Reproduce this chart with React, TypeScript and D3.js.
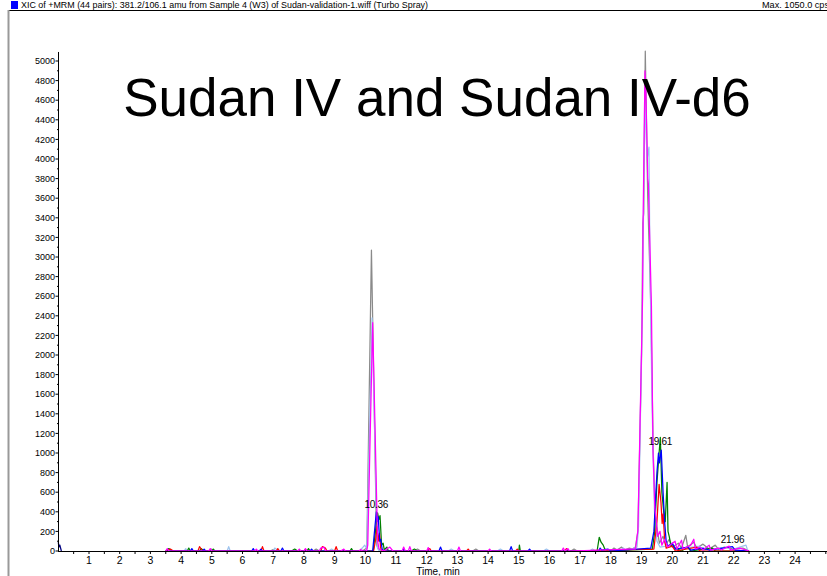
import React from 'react';
import * as d3 from 'd3';

// XIC traces, [time (min), intensity (cps)]
const grayTrace = [
  [3.5, 0], [4.9, 0], [5.0, 20], [5.05, 0], [6.9, 0], [7.0, 15], [7.1, 0], [8.3, 0], [8.4, 20], [8.5, 0],
  [9.7, 0], [9.95, 10], [10.05, 30], [10.2, 3070], [10.37, 60], [10.42, 20], [10.5, 0], [11.6, 0], [11.7, 20],
  [11.8, 0], [13.5, 0], [13.6, 20], [13.7, 0], [16.7, 0], [16.8, 20], [16.9, 0], [18.0, 0], [18.1, 30],
  [18.2, 10], [18.35, 40], [18.45, 10], [18.6, 30], [18.7, 20], [18.8, 40], [18.88, 200], [19.0, 2000],
  [19.04, 3350], [19.07, 3450], [19.12, 5100], [19.2, 3600], [19.3, 2500], [19.38, 1000], [19.45, 350],
  [19.52, 200], [19.58, 80], [19.7, 150], [19.78, 60], [19.9, 120], [20.0, 40], [20.2, 80], [20.3, 30],
  [20.44, 160], [20.5, 40], [20.7, 90], [20.8, 30], [21.0, 70], [21.2, 20], [21.4, 60], [21.5, 20],
  [21.7, 40], [22.0, 20], [22.3, 30], [22.5, 0],
];

const lightBlueTrace = [
  [3.5, 0], [4.1, 0], [4.15, 25], [4.2, 0], [5.5, 0], [5.55, 45], [5.6, 0], [7.0, 0], [7.05, 30], [7.15, 10],
  [7.3, 0], [8.8, 0], [8.9, 20], [9.0, 0], [9.8, 0], [9.9, 30], [9.98, 60], [10.05, 20], [10.22, 2380],
  [10.39, 40], [10.45, 0], [12.7, 0], [12.8, 20], [12.9, 0], [14.3, 0], [14.4, 20], [14.5, 0], [15.8, 0],
  [15.9, 20], [16.0, 0], [17.3, 0], [17.4, 20], [17.5, 0], [18.3, 0], [18.4, 30], [18.5, 0], [18.85, 40],
  [18.9, 250], [19.04, 2800], [19.1, 4600], [19.18, 4000], [19.24, 4120], [19.27, 3000], [19.34, 1500],
  [19.42, 400], [19.5, 100], [19.6, 40], [20.0, 60], [20.1, 20], [20.9, 50], [21.0, 10], [21.8, 40],
  [21.9, 10], [22.4, 60], [22.45, 10], [22.5, 0],
];

const greenTrace = [
  [3.5, 0], [3.6, 25], [3.7, 0], [4.2, 0], [4.25, 30], [4.3, 0], [4.6, 0], [4.65, 25], [4.75, 0], [5.0, 0],
  [5.05, 20], [5.1, 0], [7.6, 0], [7.7, 20], [7.8, 0], [8.1, 0], [8.15, 25], [8.2, 0], [9.5, 0], [9.55, 25],
  [9.6, 0], [10.26, 0], [10.33, 200], [10.4, 390], [10.44, 320], [10.48, 360], [10.53, 60], [10.58, 80],
  [10.62, 10], [10.7, 40], [10.75, 0], [11.5, 0], [11.6, 20], [11.7, 0], [15.0, 0], [15.02, 60], [15.05, 0],
  [17.55, 0], [17.62, 140], [17.68, 90], [17.75, 60], [17.8, 20], [17.9, 0], [19.35, 20], [19.42, 180],
  [19.5, 700], [19.57, 1000], [19.61, 1160], [19.66, 600], [19.72, 400], [19.77, 300], [19.83, 700],
  [19.86, 200], [19.9, 150], [19.95, 60], [20.1, 30], [20.3, 0], [20.5, 40], [20.6, 0], [21.3, 30],
  [21.4, 0], [22.5, 0],
];

const redTrace = [
  [3.5, 0], [3.65, 20], [3.75, 0], [4.55, 0], [4.6, 45], [4.7, 0], [6.6, 0], [6.65, 45], [6.7, 0], [7.1, 0],
  [7.15, 25], [7.2, 0], [8.0, 0], [8.05, 15], [8.1, 0], [8.55, 0], [8.6, 45], [8.7, 30], [8.75, 0], [9.0, 0],
  [9.05, 45], [9.1, 0], [10.27, 0], [10.34, 120], [10.38, 250], [10.42, 100], [10.46, 180], [10.5, 30],
  [10.55, 0], [12.0, 0], [12.1, 25], [12.15, 0], [13.3, 0], [13.35, 20], [13.4, 0], [14.9, 0], [14.95, 20],
  [15.0, 0], [16.5, 0], [16.55, 25], [16.6, 0], [19.4, 20], [19.5, 300], [19.57, 680], [19.63, 500],
  [19.67, 280], [19.7, 380], [19.75, 120], [19.8, 30], [20.0, 50], [20.1, 0], [20.8, 40], [20.9, 0], [22.5, 0],
];

const blueTrace = [
  [3.5, 0], [4.3, 0], [4.35, 25], [4.4, 0], [4.7, 0], [4.75, 20], [4.8, 0], [6.3, 0], [6.35, 25], [6.4, 0],
  [6.55, 0], [6.6, 20], [6.65, 0], [7.25, 0], [7.3, 30], [7.35, 0], [8.2, 0], [8.25, 20], [8.3, 0],
  [10.24, 0], [10.3, 200], [10.36, 400], [10.39, 300], [10.42, 350], [10.47, 100], [10.5, 120], [10.55, 20],
  [10.6, 0], [11.2, 0], [11.25, 20], [11.3, 0], [12.4, 0], [12.45, 40], [12.5, 0], [14.7, 0], [14.75, 45],
  [14.8, 0], [15.3, 0], [15.35, 20], [15.4, 0], [17.6, 0], [17.65, 30], [17.7, 10], [17.9, 20], [18.0, 0],
  [19.3, 30], [19.4, 200], [19.5, 800], [19.55, 1000], [19.58, 900], [19.64, 1030], [19.7, 600], [19.75, 300],
  [19.8, 100], [19.85, 50], [20.0, 80], [20.1, 20], [20.5, 40], [20.6, 10], [21.0, 30], [21.2, 10],
  [21.96, 45], [22.05, 10], [22.5, 0],
];

const magentaTrace = [
  [3.5, 0], [3.55, 25], [3.6, 0], [4.9, 0], [4.95, 25], [5.0, 0], [6.4, 0], [6.45, 20], [6.5, 0], [7.8, 0],
  [7.85, 20], [7.9, 0], [8.0, 0], [8.05, 25], [8.1, 0], [8.5, 0], [8.55, 30], [8.65, 40], [8.7, 0], [9.2, 0],
  [9.3, 20], [9.35, 0], [9.8, 0], [9.85, 15], [9.9, 0], [10.04, 0], [10.08, 60], [10.24, 2330], [10.4, 100],
  [10.45, 20], [10.6, 0], [10.8, 40], [10.9, 0], [11.2, 0], [11.25, 40], [11.3, 0], [11.4, 0], [11.45, 45],
  [11.5, 0], [12.0, 0], [12.05, 35], [12.1, 0], [13.0, 0], [13.05, 40], [13.1, 0], [14.0, 0], [14.05, 20],
  [14.1, 0], [16.4, 0], [16.45, 30], [16.5, 0], [16.6, 25], [16.65, 0], [18.6, 20], [18.8, 20], [18.88, 210],
  [19.03, 2560], [19.05, 3400], [19.11, 4900], [19.14, 4700], [19.2, 3800], [19.22, 3750], [19.32, 2500],
  [19.37, 1030], [19.43, 450], [19.48, 300], [19.52, 150], [19.6, 200], [19.66, 60], [19.75, 120],
  [19.85, 40], [20.0, 80], [20.09, 100], [20.15, 20], [20.3, 110], [20.35, 20], [20.6, 60], [20.7, 120],
  [20.75, 20], [20.9, 40], [21.0, 10], [21.2, 60], [21.25, 10], [21.5, 30], [21.6, 10], [21.85, 50],
  [21.9, 10], [22.2, 30], [22.5, 0],
];

const navyTrace = [[0, 90], [0.02, 40], [0.05, 60], [0.1, 0]];

const traces = [
  { name: 'gray', color: '#8a8a8a', data: grayTrace },
  { name: 'lightblue', color: '#9dc3ee', data: lightBlueTrace },
  { name: 'green', color: '#008000', data: greenTrace },
  { name: 'red', color: '#ff0000', data: redTrace },
  { name: 'blue', color: '#0000ff', data: blueTrace },
  { name: 'magenta', color: '#ff00ff', data: magentaTrace },
  { name: 'navy', color: '#000080', data: navyTrace },
];

const peakLabels = [
  { t: 10.36, v: 400, text: '10.36' },
  { t: 19.61, v: 1040, text: '19.61' },
  { t: 21.96, v: 45, text: '21.96' },
];

const xTickLabels = d3.range(1, 25);
const yTickLabels = d3.range(0, 5001, 200);

const headerText = 'XIC of +MRM (44 pairs): 381.2/106.1 amu from Sample 4 (W3) of Sudan-validation-1.wiff (Turbo Spray)';
const maxText = 'Max. 1050.0 cps';
const title = 'Sudan IV and Sudan IV-d6';

const W = 827, H = 576;
const font = 'Liberation Sans, Arial, sans-serif';

export default function App() {
  const x = d3.scaleLinear().domain([0, 24]).range([58.3, 795.1]);
  const y = d3.scaleLinear().domain([0, 5000]).range([551, 61]);
  const line = d3.line<number[]>().x(d => x(d[0])).y(d => y(d[1]));

  const minorY = d3.range(100, 5001, 200);
  const xTicks = d3.range(0.5, 25.01, 0.5);

  return (
    <svg width={W} height={H} style={{ position: 'absolute', left: 0, top: 0, background: '#fff' }} fontFamily={font}>
      {/* frame */}
      <line x1={9} x2={W} y1={10.5} y2={10.5} stroke="#000" strokeWidth={1} />
      <line x1={8.5} x2={8.5} y1={10} y2={H} stroke="#999" strokeWidth={2} />
      <rect x={11} y={1} width={7} height={8} fill="#0000ff" />
      <text x={21} y={8} fontSize={9} textLength={407} lengthAdjust="spacingAndGlyphs">{headerText}</text>
      <text x={762} y={8} fontSize={9} textLength={67} lengthAdjust="spacingAndGlyphs">{maxText}</text>

      {/* traces */}
      <g fill="none" strokeWidth={1.25} strokeLinejoin="round">
        {traces.map(s => <path key={s.name} d={line(s.data) || ''} stroke={s.color} />)}
      </g>

      {/* y axis */}
      <line x1={58.5} x2={58.5} y1={y(5092)} y2={551} stroke="#000" />
      {yTickLabels.map(v => (
        <g key={v} transform={`translate(0,${y(v)})`}>
          <line x1={55.5} x2={58.5} stroke="#000" />
          <text x={55} dy="0.35em" fontSize={9} textAnchor="end">{v}</text>
        </g>
      ))}
      {minorY.map(v => <line key={'m' + v} x1={57} x2={58.5} y1={y(v)} y2={y(v)} stroke="#000" />)}

      {/* x axis */}
      <line x1={58} x2={W} y1={551.5} y2={551.5} stroke="#000" />
      {xTicks.map(t => <line key={t} x1={x(t)} x2={x(t)} y1={551.5} y2={554} stroke="#000" />)}
      {xTickLabels.map(t => (
        <text key={t} x={x(t)} y={564} fontSize={10.5} textAnchor="middle">{t}</text>
      ))}
      <text x={438} y={575} fontSize={10} textAnchor="middle">Time, min</text>

      {/* peak labels */}
      {peakLabels.map(p => (
        <text key={p.text} x={x(p.t)} y={y(p.v) - 4} fontSize={10} textAnchor="middle" letterSpacing={-0.3}>{p.text}</text>
      ))}

      <text x={437} y={116} fontSize={53} textAnchor="middle">{title}</text>
    </svg>
  );
}
